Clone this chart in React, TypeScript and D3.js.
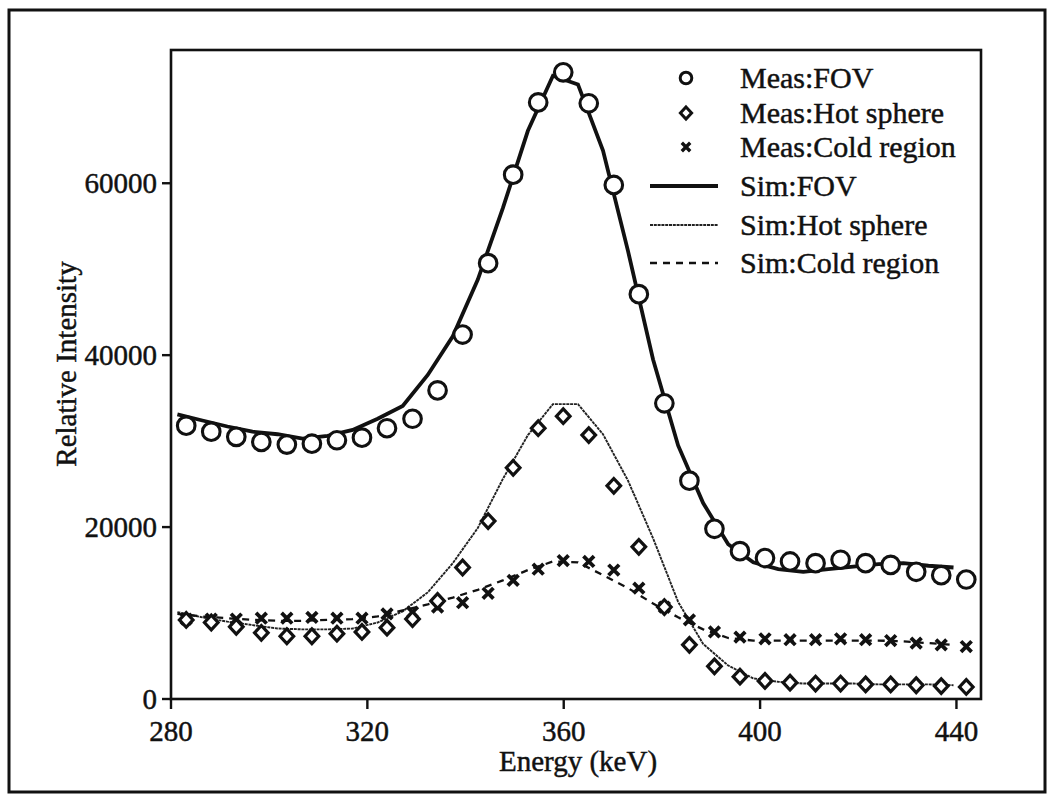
import React from "react";
import * as d3 from "d3";

// Measured energies (keV)
const measEnergy = [283.1, 288.2, 293.3, 298.4, 303.6, 308.7, 313.8, 318.9, 324.0, 329.2, 334.3, 339.4, 344.6, 349.7, 354.8, 359.9, 365.1, 370.2, 375.3, 380.5, 385.6, 390.7, 395.9, 401.0, 406.1, 411.3, 416.4, 421.5, 426.6, 431.8, 436.9, 442.0];
const measFOV = [31800, 31100, 30500, 29900, 29600, 29700, 30100, 30400, 31500, 32600, 35900, 42400, 50700, 61000, 69400, 72900, 69300, 59800, 47100, 34400, 25400, 19800, 17200, 16400, 16000, 15800, 16200, 15800, 15600, 14800, 14400, 13900];
const measHot = [9200, 8900, 8400, 7700, 7300, 7300, 7600, 7800, 8300, 9300, 11400, 15300, 20700, 26900, 31500, 32900, 30700, 24800, 17700, 10700, 6300, 3800, 2600, 2100, 1900, 1800, 1800, 1700, 1700, 1600, 1500, 1400];
const measCold = [9300, 9300, 9300, 9400, 9400, 9500, 9400, 9400, 9900, 10100, 10700, 11200, 12300, 13800, 15100, 16100, 16000, 15000, 12900, 10700, 9200, 7800, 7200, 7000, 6900, 6900, 7000, 6900, 6800, 6500, 6300, 6100];

// Simulated energies (keV)
const simEnergy = [281.3, 286.4, 291.5, 296.6, 301.7, 306.8, 311.9, 317.0, 322.1, 327.2, 332.3, 337.4, 342.5, 347.6, 352.7, 357.8, 362.9, 368.0, 373.1, 378.2, 383.3, 388.4, 393.5, 398.6, 403.7, 408.8, 413.9, 419.0, 424.1, 429.2, 434.3, 439.4];
const simFOV = [33100, 32400, 31700, 31100, 30800, 30300, 30600, 31300, 32600, 34100, 37700, 42200, 48800, 57100, 66100, 72500, 71500, 63800, 52100, 39500, 29500, 22800, 18000, 15900, 15100, 14800, 15100, 15400, 15700, 15800, 15500, 15300];
const simHot = [10100, 9500, 9000, 8600, 8200, 8100, 8100, 8200, 8900, 10200, 12400, 15800, 19900, 25600, 30700, 34300, 34300, 30800, 25400, 18700, 11300, 6400, 3900, 2400, 2000, 1800, 1800, 1800, 1700, 1700, 1700, 1600];
const simCold = [9900, 9600, 9400, 9200, 9100, 9100, 9200, 9300, 9600, 10300, 11000, 11800, 12700, 13800, 15000, 16000, 15900, 14400, 12900, 11100, 9500, 8100, 7100, 6800, 6800, 6800, 6800, 6800, 6800, 6700, 6500, 6300];

const xTicks = [280, 320, 360, 400, 440];
const yTicks = [0, 20000, 40000, 60000];
const xDomain = [280, 445];
const yDomain = [0, 75500];

const legendLabels = ["Meas:FOV", "Meas:Hot sphere", "Meas:Cold region", "Sim:FOV", "Sim:Hot sphere", "Sim:Cold region"];

const FONT = "'Liberation Serif', 'Times New Roman', serif";
const INK = "#111";

export default function App() {
  const left = 171, right = 981, top = 50, bottom = 699;
  const x = d3.scaleLinear().domain(xDomain).range([left, right]);
  const y = d3.scaleLinear().domain(yDomain).range([bottom, top]);

  const mkLine = (vals: number[]) =>
    d3.line<number>().x((_, i) => x(simEnergy[i])).y((d) => y(d))(vals) || "";

  const diamond = (cx: number, cy: number, hw: number, hh: number) =>
    `M${cx},${cy - hh}L${cx + hw},${cy}L${cx},${cy + hh}L${cx - hw},${cy}Z`;
  const cross = (cx: number, cy: number, h: number) =>
    `M${cx - h},${cy - h}L${cx + h},${cy + h}M${cx - h},${cy + h}L${cx + h},${cy - h}`;

  const legendBase = [88, 123, 157, 196, 235, 273];
  const lgMarkX = 686;
  const lgLine0 = 650, lgLine1 = 718;
  const lgText = 740;
  const textProps = { fontFamily: FONT, fill: INK, stroke: INK, strokeWidth: 0.45 };

  return (
    <div style={{ position: "absolute", left: 0, top: 0 }}>
      <svg width={1050} height={806} style={{ display: "block", background: "#fff" }}>
        {/* outer frame */}
        <rect x={9} y={10} width={1036} height={782} fill="none" stroke={INK} strokeWidth={3} />
        {/* plot box */}
        <rect x={left} y={top} width={right - left} height={bottom - top} fill="none" stroke={INK} strokeWidth={2.6} />

        {/* x ticks */}
        {xTicks.map((t) => (
          <g key={"xt" + t}>
            <line x1={x(t)} x2={x(t)} y1={bottom} y2={bottom + 10} stroke={INK} strokeWidth={2.4} />
            <text x={x(t)} y={741} textAnchor="middle" fontSize={29} {...textProps}>{t}</text>
          </g>
        ))}
        {/* y ticks */}
        {yTicks.map((t) => (
          <g key={"yt" + t}>
            <line x1={left - 9} x2={left} y1={y(t)} y2={y(t)} stroke={INK} strokeWidth={2.4} />
            <text x={157} y={y(t) + 10} textAnchor="end" fontSize={29} {...textProps}>{t}</text>
          </g>
        ))}
        <text x={578} y={771} textAnchor="middle" fontSize={29} {...textProps}>Energy (keV)</text>
        <text transform={`translate(76,364) rotate(-90)`} textAnchor="middle" fontSize={29} {...textProps}>Relative Intensity</text>

        {/* simulated lines */}
        <path d={mkLine(simHot)} fill="none" stroke="#222" strokeWidth={1.9} strokeDasharray="3,0.8" />
        <path d={mkLine(simCold)} fill="none" stroke={INK} strokeWidth={2.3} strokeDasharray="7,6" />
        <path d={mkLine(simFOV)} fill="none" stroke={INK} strokeWidth={3.8} />

        {/* measured markers */}
        {measEnergy.map((e, i) => (
          <path key={"c" + i} d={cross(x(e), y(measCold[i]), 5.3)} stroke={INK} strokeWidth={3.8} fill="none" />
        ))}
        {measEnergy.map((e, i) => (
          <path key={"d" + i} d={diamond(x(e), y(measHot[i]), 6.8, 7.3)} stroke={INK} strokeWidth={3.2} fill="#fff" />
        ))}
        {measEnergy.map((e, i) => (
          <circle key={"o" + i} cx={x(e)} cy={y(measFOV[i])} r={8.8} stroke={INK} strokeWidth={3.1} fill="#fff" />
        ))}

        {/* legend */}
        <circle cx={lgMarkX} cy={legendBase[0] - 10} r={5.8} stroke={INK} strokeWidth={3} fill="#fff" />
        <path d={diamond(lgMarkX, legendBase[1] - 10, 5.6, 6)} stroke={INK} strokeWidth={3} fill="#fff" />
        <path d={cross(lgMarkX, legendBase[2] - 10, 4.2)} stroke={INK} strokeWidth={3.4} fill="none" />
        <line x1={lgLine0} x2={lgLine1} y1={legendBase[3] - 10} y2={legendBase[3] - 10} stroke={INK} strokeWidth={3.8} />
        <line x1={lgLine0} x2={lgLine1} y1={legendBase[4] - 10} y2={legendBase[4] - 10} stroke="#222" strokeWidth={1.9} strokeDasharray="3,0.8" />
        <line x1={lgLine0} x2={lgLine1} y1={legendBase[5] - 10} y2={legendBase[5] - 10} stroke={INK} strokeWidth={2.3} strokeDasharray="7,6" />
        {legendLabels.map((l, i) => (
          <text key={l} x={lgText} y={legendBase[i]} fontSize={30} {...textProps}>{l}</text>
        ))}
      </svg>
    </div>
  );
}
